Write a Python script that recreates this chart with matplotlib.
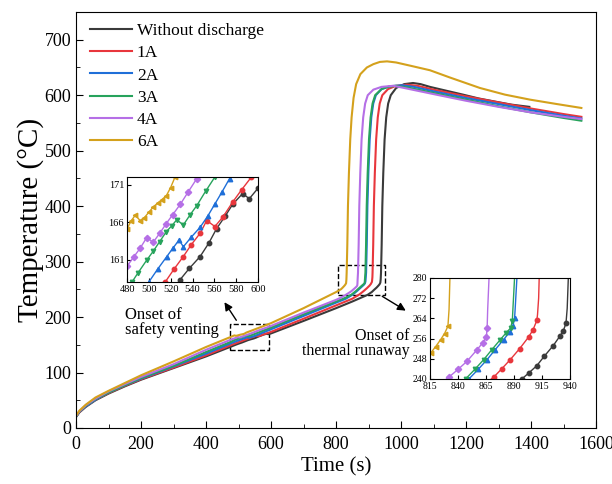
import matplotlib
matplotlib.use("Agg")
import matplotlib.pyplot as plt
import numpy as np
from matplotlib.patches import Rectangle

plt.rcParams['font.family'] = ['Liberation Serif', 'DejaVu Serif']
plt.rcParams['mathtext.fontset'] = 'stix'

labels = ["Without discharge", "1A", "2A", "3A", "4A", "6A"]
colors = ["#3a3a3a", "#e8363c", "#1f6fd8", "#27a35c", "#b56fe6", "#d4a11c"]
markers = ["o", "o", "^", "v", "D", "<"]

# ---- data ----
t_black = [0, 10, 30, 60, 100, 150, 200, 300, 400, 480, 490, 500, 510, 520, 528.6, 537, 547, 555, 562, 570, 577,
           586, 592, 600, 700, 800, 850, 897, 903.5, 910.4, 917, 925, 931, 934, 936.4, 937.5, 938.5, 940.5, 942.5,
           945.5, 949.5, 954.5, 960.5, 968.5, 985, 1010, 1037, 1060, 1089, 1140, 1191, 1240, 1294, 1340, 1395]
T_black = [20, 28, 38, 50, 62, 75, 87, 108, 129, 147.4, 149.8, 152, 154, 156.3, 158.3, 159.8, 161.4, 163.2, 165.1,
           166.8, 168.4, 169.8, 169.1, 170.5, 193, 216, 228, 240, 242.5, 245.3, 249, 253.2, 257, 259.1, 262, 268,
           280, 330, 400, 460, 520, 560, 585, 600, 613, 620, 622, 620, 615, 608, 601, 594, 588, 583, 579]

t_1A = [0, 10, 30, 60, 100, 150, 200, 300, 400, 480, 490, 500, 507, 515, 523, 531.6, 539, 547, 553, 560.5, 568,
        577, 585, 594, 600, 700, 800, 850, 872, 879, 886.7, 895, 903, 907, 910.4, 911, 912, 912.5, 914.5, 916.5,
        919.5, 923.5, 928.5, 934.5, 942.5, 960, 985, 1018, 1050, 1100, 1200, 1300, 1400, 1500, 1555]
T_1A = [20, 28, 39, 51, 63, 76, 88, 109, 131, 150.3, 152.5, 154.7, 156.2, 158, 159.7, 161.4, 163, 164.5, 166.2,
        165.4, 166.7, 168.7, 170.3, 172, 173.3, 197, 221, 233, 240.8, 244, 247.7, 252, 256.6, 259.5, 263.2, 265.5,
        272, 280, 330, 400, 460, 520, 560, 585, 600, 611, 617, 619, 617, 610, 598, 587, 576, 566, 561]

t_2A = [0, 10, 30, 60, 100, 150, 200, 300, 400, 480, 490, 500, 508, 516.5, 522, 527.7, 531.6, 539, 547, 554,
        560.5, 567, 574, 600, 700, 800, 830, 849.7, 858, 866, 873, 880.7, 886, 889, 890.5, 891, 892.6, 894.6,
        896.6, 899.6, 903.6, 908.6, 914.6, 922.6, 940, 965, 1003, 1040, 1100, 1200, 1300, 1400, 1500, 1555]
T_2A = [20, 29, 39, 51, 64, 77, 89, 111, 134, 153.5, 155.8, 158, 159.7, 161.4, 162.5, 163.6, 162.7, 164, 165.3,
        166.8, 168.4, 170, 171.8, 178, 202, 226, 233, 240, 243.8, 247.7, 251.5, 255.6, 258.5, 260.9, 264, 267.5,
        280, 330, 400, 460, 520, 560, 585, 600, 611, 616, 618, 615, 607, 595, 584, 573, 563, 558]

t_3A = [0, 10, 30, 60, 100, 150, 200, 300, 400, 480, 484.6, 490, 498, 504, 510, 516, 521, 525.6, 531.6, 538, 544,
        552, 560.5, 580, 600, 700, 800, 830, 846.7, 855, 863, 870, 877.8, 883, 887, 888.5, 889, 890.5, 892.5,
        894.5, 897.5, 901.5, 906.5, 912.5, 920.5, 940, 960, 982, 1020, 1100, 1200, 1300, 1400, 1500, 1555]
T_3A = [20, 29, 40, 52, 64, 77, 90, 112, 137, 156.2, 158, 159.2, 160.9, 162.1, 163.4, 164.7, 165.5, 166.3, 165.6,
        167, 168.2, 170.1, 172, 176.5, 181, 205, 228, 235, 240, 243.8, 247.7, 251.5, 255.6, 258.3, 260.2, 263,
        267.5, 280, 330, 400, 460, 520, 560, 585, 600, 611, 615, 617, 614, 604, 592, 580, 569, 559, 554]

t_4A = [0, 10, 30, 60, 100, 150, 200, 300, 400, 480, 486, 492, 498, 504, 510, 516, 522, 529, 536, 544, 560, 600,
        700, 800, 815, 824, 832, 840, 848, 857, 862, 865.3, 866, 866.5, 867.7, 869.7, 871.7, 874.7, 878.7, 883.7,
        889.7, 897.7, 915, 940, 976, 1010, 1100, 1200, 1300, 1400, 1500, 1555]
T_4A = [21, 30, 41, 53, 66, 79, 92, 115, 141, 160.1, 161.3, 162.5, 163.9, 163.3, 164.5, 165.8, 167, 168.4, 170,
        171.8, 175.5, 184, 208, 231, 235, 238, 240.8, 243.8, 247, 251.6, 254.3, 256.6, 260, 267.5, 280, 330, 400,
        460, 520, 560, 585, 600, 610, 615, 617, 613, 602, 590, 579, 569, 561, 557]

t_6A = [0, 10, 30, 60, 100, 150, 200, 300, 400, 480, 484, 487.6, 492, 496, 500, 504, 508, 512, 516, 520, 524, 560,
        600, 700, 800, 815.6, 820, 824.5, 828, 831, 832, 832.8, 834.8, 836.8, 839.8, 843.8, 848, 854, 862, 875,
        895, 915, 935, 957, 985, 1030, 1089, 1150, 1243, 1320, 1397, 1480, 1555]
T_6A = [22, 31, 42, 55, 67, 81, 95, 120, 146, 165.1, 166.2, 166.9, 166.2, 166.6, 167.3, 168, 168.5, 169, 169.5,
        170.6, 172, 180, 189, 216, 245, 250.3, 252.8, 255.6, 258, 260.9, 267.5, 280, 330, 400, 460, 520, 560, 595,
        620, 638, 650, 656, 660, 661, 659, 653, 645, 632, 613, 601, 592, 584, 577]

series_t = [t_black, t_1A, t_2A, t_3A, t_4A, t_6A]
series_T = [T_black, T_1A, T_2A, T_3A, T_4A, T_6A]

W, H = 612, 484
fig = plt.figure(figsize=(W / 100, H / 100), dpi=100)
ax = fig.add_axes([76 / W, 1 - 428 / H, 520 / W, 416 / H])

for t, T, c, lab in zip(series_t, series_T, colors, labels):
    ax.plot(t, T, color=c, lw=1.5, label=lab)

ax.set_xlim(0, 1600)
ax.set_ylim(0, 750)
ax.set_xticks(np.arange(0, 1601, 200))
ax.set_xticks(np.arange(100, 1600, 200), minor=True)
ax.set_yticks(np.arange(0, 701, 100))
ax.set_yticks(np.arange(50, 750, 100), minor=True)
ax.tick_params(which='both', direction='in', labelsize=13)
ax.tick_params(axis='x', which='major', pad=6)
ax.tick_params(which='major', length=5)
ax.tick_params(which='minor', length=3)
ax.set_xlabel("Time (s)", fontsize=15, labelpad=3)
ax.set_ylabel("Temperature (°C)", fontsize=21, labelpad=0)

leg = ax.legend(loc='upper left', bbox_to_anchor=(0.005, 1.0), frameon=False, fontsize=12.5,
                handlelength=2.4, labelspacing=0.34, handletextpad=0.3, borderaxespad=0.25)

# dashed boxes
ax.add_patch(Rectangle((475, 140), 120, 48, fill=False, ls='--', lw=1.0, ec='black'))
ax.add_patch(Rectangle((806, 240), 145, 54, fill=False, ls='--', lw=1.0, ec='black'))

# annotations
ax.text(150, 218, "Onset of\nsafety venting", fontsize=12, ha='left', va='top', linespacing=0.95)
ax.text(1025, 152, "Onset of\nthermal runaway", fontsize=11.5, ha='right', va='center',
        multialignment='right', linespacing=0.95)
ax.annotate("", xy=(452, 231), xytext=(498, 190),
            arrowprops=dict(arrowstyle='-|>', color='black', lw=1.0, mutation_scale=12))
ax.annotate("", xy=(1022, 209), xytext=(935, 240),
            arrowprops=dict(arrowstyle='-|>', color='black', lw=1.0, mutation_scale=12))

# left inset
ax1 = fig.add_axes([127 / W, 1 - 282 / H, 131 / W, 105 / H])
for t, T, c, m in zip(series_t, series_T, colors, markers):
    ax1.plot(t, T, color=c, lw=1.0, marker=m, ms=3.2, mec=c, mfc=c)
ax1.set_xlim(480, 600)
ax1.set_ylim(158, 172)
ax1.set_xticks(np.arange(480, 601, 20))
ax1.set_yticks([161, 166, 171])
ax1.tick_params(direction='in', labelsize=7.5, length=3, pad=2)

# right inset
ax2 = fig.add_axes([430 / W, 1 - 379 / H, 140 / W, 101 / H])
for t, T, c, m in zip(series_t, series_T, colors, markers):
    ta = np.array(t)
    Ta = np.array(T)
    ax2.plot(ta, Ta, color=c, lw=1.0)
    sel = Ta < 265
    ax2.plot(ta[sel], Ta[sel], ls='none', marker=m, ms=3.2, mec=c, mfc=c)
ax2.set_xlim(815, 940)
ax2.set_ylim(240, 280)
ax2.set_xticks(np.arange(815, 941, 25))
ax2.set_yticks(np.arange(240, 281, 8))
ax2.tick_params(direction='in', labelsize=7, length=3, pad=2)

fig.savefig("out.png", dpi=100)
